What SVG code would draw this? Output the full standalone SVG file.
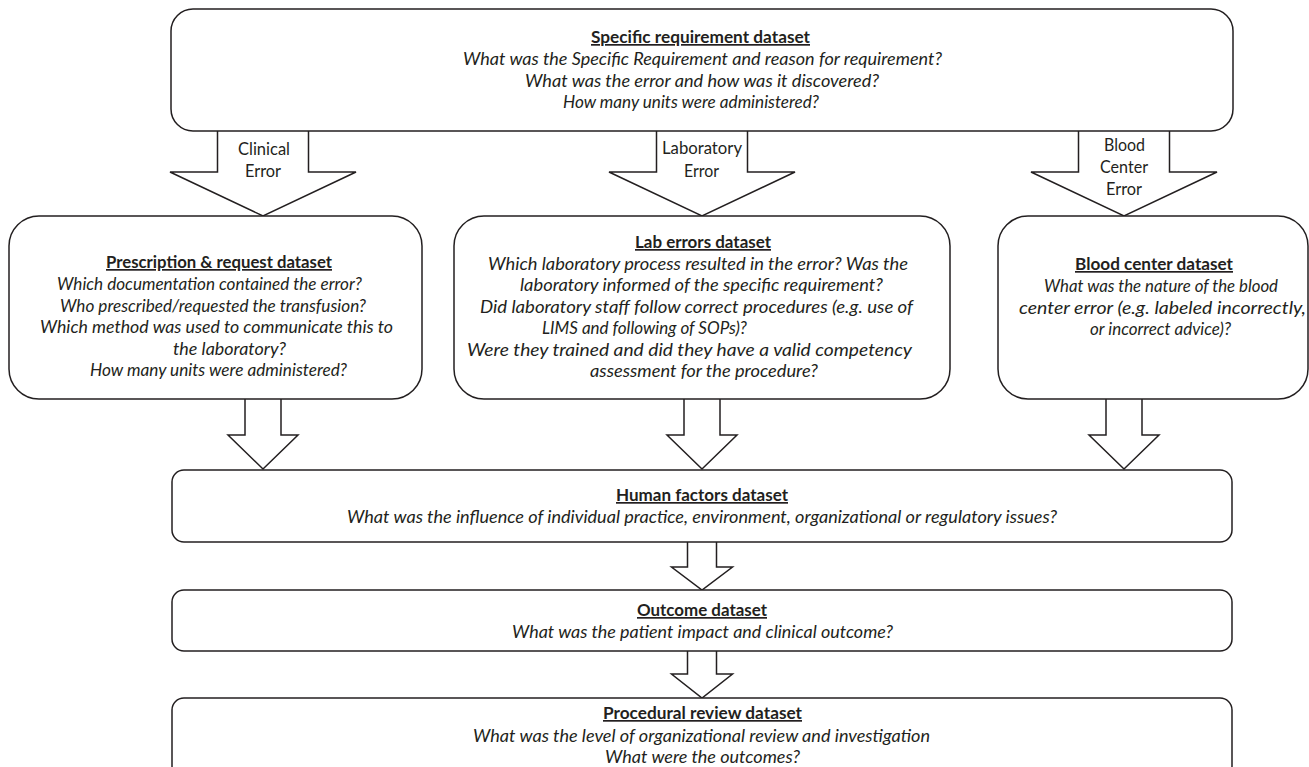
<svg xmlns="http://www.w3.org/2000/svg" width="1309" height="767" viewBox="0 0 1309 767">
<style>
.box{fill:#fff;stroke:#231f20;stroke-width:1.5}
.arr{fill:#fff;stroke:#231f20;stroke-width:1.5;stroke-linejoin:miter}
text{font-family:Lato,"Open Sans","Noto Sans",sans-serif;font-size:17px;fill:#231f20}
.t{font-weight:bold;text-decoration:underline}
.i{font-style:italic}
.c{text-anchor:middle}
</style>
<rect width="1309" height="767" fill="#fff"/>
<g id="connectors">
<path class="arr" d="M217.5,131 V172 H170 L263,216 L356,172 H308.5 V131"/>
<path class="arr" d="M656.5,131 V172 H609 L702,216 L795,172 H747.5 V131"/>
<path class="arr" d="M1078.5,131 V172 H1031 L1124,216 L1217,172 H1169.5 V131"/>
<path class="arr" d="M245,399 V435 H228 L263,469 L298,435 H281 V399"/>
<path class="arr" d="M684,399 V435 H667 L702,469 L737,435 H720 V399"/>
<path class="arr" d="M1106,399 V435 H1089 L1124,469 L1159,435 H1142 V399"/>
<path class="arr" d="M687.5,542 V567 H671.5 L702,590 L732.5,567 H716.5 V542"/>
<path class="arr" d="M687.5,651 V674 H671.5 L702,698 L732.5,674 H716.5 V651"/>
<text x="238" y="155" textLength="52" lengthAdjust="spacingAndGlyphs">Clinical</text>
<text x="245" y="177" textLength="36" lengthAdjust="spacingAndGlyphs">Error</text>
<text x="662" y="154" textLength="80" lengthAdjust="spacingAndGlyphs">Laboratory</text>
<text x="684" y="177" textLength="35" lengthAdjust="spacingAndGlyphs">Error</text>
<text x="1104" y="151" textLength="41" lengthAdjust="spacingAndGlyphs">Blood</text>
<text x="1100" y="173" textLength="48" lengthAdjust="spacingAndGlyphs">Center</text>
<text x="1106" y="195" textLength="36" lengthAdjust="spacingAndGlyphs">Error</text>
</g>
<g id="specific">
<rect class="box" x="171" y="9" width="1062" height="122" rx="22"/>
<text class="t" x="591" y="43" textLength="219" lengthAdjust="spacingAndGlyphs">Specific requirement dataset</text>
<text class="i" x="463" y="65" textLength="479" lengthAdjust="spacingAndGlyphs">What was the Specific Requirement and reason for requirement?</text>
<text class="i" x="525" y="87" textLength="354" lengthAdjust="spacingAndGlyphs">What was the error and how was it discovered?</text>
<text class="i" x="563" y="108" textLength="256" lengthAdjust="spacingAndGlyphs">How many units were administered?</text>
</g>
<g id="prescription">
<rect class="box" x="9" y="216" width="413" height="183" rx="30"/>
<text class="t" x="106" y="268" textLength="226" lengthAdjust="spacingAndGlyphs">Prescription &amp; request dataset</text>
<text class="i" x="57" y="290" textLength="305" lengthAdjust="spacingAndGlyphs">Which documentation contained the error?</text>
<text class="i" x="60" y="311.5" textLength="306" lengthAdjust="spacingAndGlyphs">Who prescribed/requested the transfusion?</text>
<text class="i" x="40" y="333" textLength="353" lengthAdjust="spacingAndGlyphs">Which method was used to communicate this to</text>
<text class="i" x="173" y="354.5" textLength="113" lengthAdjust="spacingAndGlyphs">the laboratory?</text>
<text class="i" x="90" y="376" textLength="257" lengthAdjust="spacingAndGlyphs">How many units were administered?</text>
</g>
<g id="lab">
<rect class="box" x="454" y="216" width="496" height="183" rx="30"/>
<text class="t" x="635" y="248" textLength="136" lengthAdjust="spacingAndGlyphs">Lab errors dataset</text>
<text class="i" x="488" y="269.5" textLength="420" lengthAdjust="spacingAndGlyphs">Which laboratory process resulted in the error? Was the</text>
<text class="i" x="520" y="291" textLength="363" lengthAdjust="spacingAndGlyphs">laboratory informed of the specific requirement?</text>
<text class="i" x="480" y="312.5" textLength="433" lengthAdjust="spacingAndGlyphs">Did laboratory staff follow correct procedures (e.g. use of</text>
<text class="i" x="542" y="334" textLength="205" lengthAdjust="spacingAndGlyphs">LIMS and following of SOPs)?</text>
<text class="i" x="467" y="355.5" textLength="445" lengthAdjust="spacingAndGlyphs">Were they trained and did they have a valid competency</text>
<text class="i" x="590" y="377" textLength="228" lengthAdjust="spacingAndGlyphs">assessment for the procedure?</text>
</g>
<g id="blood">
<rect class="box" x="998" y="216" width="310" height="183" rx="30"/>
<text class="t" x="1075" y="270" textLength="158" lengthAdjust="spacingAndGlyphs">Blood center dataset</text>
<text class="i" x="1044" y="292" textLength="234" lengthAdjust="spacingAndGlyphs">What was the nature of the blood</text>
<text class="i" x="1019" y="313.5" textLength="287" lengthAdjust="spacingAndGlyphs">center error (e.g. labeled incorrectly,</text>
<text class="i" x="1090" y="335" textLength="141" lengthAdjust="spacingAndGlyphs">or incorrect advice)?</text>
</g>
<g id="human">
<rect class="box" x="172" y="470" width="1060" height="72" rx="12"/>
<text class="t" x="616" y="501" textLength="172" lengthAdjust="spacingAndGlyphs">Human factors dataset</text>
<text class="i" x="347" y="523" textLength="710" lengthAdjust="spacingAndGlyphs">What was the influence of individual practice, environment, organizational or regulatory issues?</text>
</g>
<g id="outcome">
<rect class="box" x="172" y="590" width="1060" height="61" rx="12"/>
<text class="t" x="637" y="616" textLength="130" lengthAdjust="spacingAndGlyphs">Outcome dataset</text>
<text class="i" x="512" y="638" textLength="381" lengthAdjust="spacingAndGlyphs">What was the patient impact and clinical outcome?</text>
</g>
<g id="procedural">
<rect class="box" x="172" y="698" width="1060" height="80" rx="12"/>
<text class="t" x="603" y="719" textLength="199" lengthAdjust="spacingAndGlyphs">Procedural review dataset</text>
<text class="i" x="473" y="742" textLength="457" lengthAdjust="spacingAndGlyphs">What was the level of organizational review and investigation</text>
<text class="i" x="605" y="763" textLength="195" lengthAdjust="spacingAndGlyphs">What were the outcomes?</text>
</g>
</svg>
